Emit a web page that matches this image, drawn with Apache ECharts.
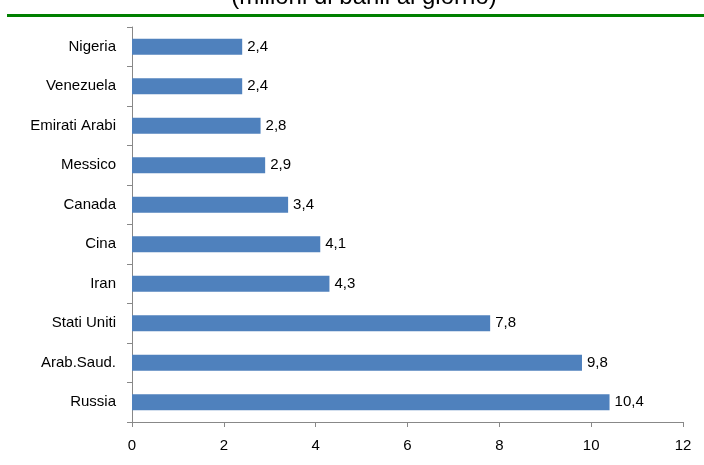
<!DOCTYPE html>
<html>
<head>
<meta charset="utf-8">
<script src="https://cdn.jsdelivr.net/npm/echarts@6/dist/echarts.min.js"></script>
<style>
  html, body { margin: 0; padding: 0; background: #fff; }
  #chart { width: 704px; height: 465px; }
</style>
</head>
<body>
<div id="chart"></div>
<script>
const countries = ['Nigeria', 'Venezuela', 'Emirati Arabi', 'Messico', 'Canada', 'Cina', 'Iran', 'Stati Uniti', 'Arab.Saud.', 'Russia']
const production = [2.4, 2.4, 2.8, 2.9, 3.4, 4.1, 4.3, 7.8, 9.8, 10.4]
const titleText = '(milioni di barili al giorno)'

const font = '"Liberation Sans", Arial, sans-serif'
const chart = echarts.init(document.getElementById('chart'))

chart.setOption({
  animation: false,
  graphic: [
    {
      // title is cut off at the top edge in the original
      type: 'text',
      x: 364,
      y: 9,
      style: {
        text: titleText,
        font: '24px "Liberation Sans", Arial, sans-serif',
        fill: '#000',
        align: 'center',
        verticalAlign: 'bottom',
      },
    },
    {
      type: 'rect',
      shape: { x: 7, y: 14, width: 697, height: 3 },
      style: { fill: '#008000' },
    },
  ],
  grid: { left: 132, right: 21, top: 27, bottom: 43 },
  xAxis: {
    type: 'value',
    min: 0,
    max: 12,
    interval: 2,
    splitLine: { show: false },
    axisLine: { show: true, lineStyle: { color: '#888' } },
    axisTick: { show: true, length: 5, lineStyle: { color: '#888' } },
    axisLabel: { color: '#000', fontSize: 15, fontFamily: font, margin: 16 },
  },
  yAxis: {
    type: 'category',
    data: countries,
    inverse: true,
    axisLine: { lineStyle: { color: '#888' } },
    axisTick: { show: true, length: 5, lineStyle: { color: '#888' } },
    axisLabel: { color: '#000', fontSize: 15, fontFamily: font, margin: 16 },
  },
  series: [
    {
      type: 'bar',
      data: production,
      barWidth: 16,
      itemStyle: { color: '#4F81BD' },
      label: {
        show: true,
        position: 'right',
        distance: 5,
        color: '#000',
        fontSize: 15,
        fontFamily: font,
        formatter: p => String(p.value).replace('.', ','),
      },
    },
  ],
})
</script>
</body>
</html>
